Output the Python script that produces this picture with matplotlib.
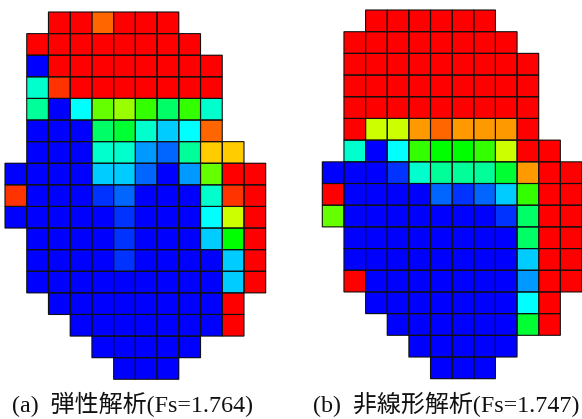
import numpy as np
import matplotlib
matplotlib.use("Agg")
import matplotlib.pyplot as plt
from matplotlib.colors import LinearSegmentedColormap

_ = np.nan

# colour level per cell, 0 = blue ... 20 = red, blank outside the section
elastic_levels = [
    [_, _, 20, 20, 18, 20, 20, 20, _, _, _, _],
    [_, 20, 20, 20, 20, 20, 20, 20, 20, _, _, _],
    [_, 0, 20, 20, 20, 20, 20, 20, 20, 20, _, _],
    [_, 6, 19, 20, 20, 20, 20, 20, 20, 20, _, _],
    [_, 7, 0, 5, 12, 13, 11, 8, 11, 6, _, _],
    [_, 0, 0, 0, 8, 9, 6, 4, 5, 18, _, _],
    [_, 0, 0, 0, 6, 6, 3, 2, 7, 16, 16, _],
    [0, 0, 0, 0, 4, 4, 2, 0, 3, 12, 20, 20],
    [19, 0, 0, 0, 1, 2, 0, 0, 0, 6, 19, 20],
    [0, 0, 0, 0, 0, 1, 0, 0, 0, 5, 14, 20],
    [_, 0, 0, 0, 0, 1, 0, 0, 0, 4, 10, 20],
    [_, 0, 0, 0, 0, 1, 0, 0, 0, 0, 4, 20],
    [_, 0, 0, 0, 0, 0, 0, 0, 0, 0, 4, 20],
    [_, _, 0, 0, 0, 0, 0, 0, 0, 0, 20, _],
    [_, _, _, 0, 0, 0, 0, 0, 0, 0, 20, _],
    [_, _, _, _, 0, 0, 0, 0, 0, _, _, _],
    [_, _, _, _, _, 0, 0, 0, _, _, _, _],
]

nonlinear_levels = [
    [_, _, 20, 20, 20, 20, 20, 20, _, _, _, _],
    [_, 20, 20, 20, 20, 20, 20, 20, 20, _, _, _],
    [_, 20, 20, 20, 20, 20, 20, 20, 20, 20, _, _],
    [_, 20, 20, 20, 20, 20, 20, 20, 20, 20, _, _],
    [_, 20, 20, 20, 20, 20, 20, 20, 20, 20, _, _],
    [_, 20, 14, 14, 17, 18, 17, 17, 17, 20, _, _],
    [_, 6, 0, 5, 11, 10, 10, 11, 14, 20, 20, _],
    [0, 0, 0, 1, 6, 7, 7, 7, 9, 17, 20, 20],
    [20, 0, 0, 0, 0, 2, 1, 2, 4, 11, 20, 20],
    [12, 0, 0, 0, 0, 0, 0, 0, 1, 8, 20, 20],
    [_, 0, 0, 0, 0, 0, 0, 0, 0, 8, 20, 20],
    [_, 0, 0, 0, 0, 0, 0, 0, 0, 4, 20, 20],
    [_, 20, 0, 0, 0, 0, 0, 0, 0, 3, 20, 20],
    [_, _, 0, 0, 0, 0, 0, 0, 0, 5, 20, _],
    [_, _, _, 0, 0, 0, 0, 0, 0, 9, 20, _],
    [_, _, _, _, 0, 0, 0, 0, 0, _, _, _],
    [_, _, _, _, _, 0, 0, 0, _, _, _, _],
]

captions = ["(a)  弾性解析(Fs=1.764)", "(b)  非線形解析(Fs=1.747)"]

plt.rcParams["font.family"] = ["Liberation Serif", "Noto Sans CJK JP"]

W, H = 582, 419
cmap = LinearSegmentedColormap.from_list(
    "levels", ["#0000ff", "#00ffff", "#00ff00", "#ffff00", "#ff0000"], N=21
)


def draw_grid(fig, levels, left, top, right, bottom):
    ax = fig.add_axes([left / W, 1 - bottom / H, (right - left) / W, (bottom - top) / H])
    data = np.array(levels, dtype=float)
    ax.pcolormesh(np.ma.masked_invalid(data), cmap=cmap, vmin=-0.5, vmax=20.5)

    # cell outlines go on top, pcolormesh edges would also box the blank cells
    rows, cols = np.nonzero(~np.isnan(data))
    bars = ax.bar(cols, 1, bottom=rows, width=1, align="edge", fill=False,
                  edgecolor="#101010", linewidth=0.8, clip_on=False)
    for bar in bars:
        bar.set_snap(False)

    ax.set_xlim(0, data.shape[1])
    ax.set_ylim(data.shape[0], 0)
    ax.axis("off")


fig = plt.figure(figsize=(W / 100, H / 100), dpi=100)

draw_grid(fig, elastic_levels, 5, 12, 265.7, 379.3)
draw_grid(fig, nonlinear_levels, 322.3, 10, 582, 378.7)

fig.text(12 / W, 1 - 412 / H, captions[0], fontsize=17.3, color="#111111", va="baseline")
fig.text(313 / W, 1 - 412 / H, captions[1], fontsize=17.3, color="#111111", va="baseline")

fig.savefig("out.png", dpi=100)
